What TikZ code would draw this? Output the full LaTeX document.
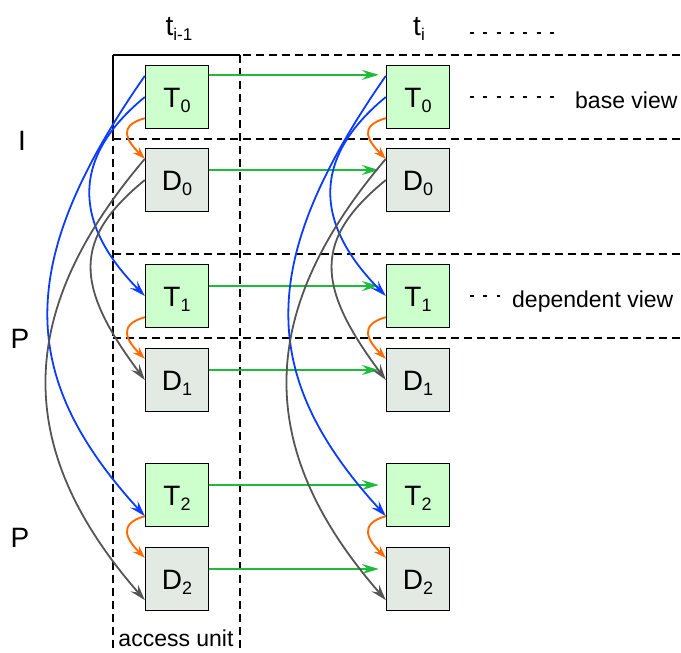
\documentclass[tikz,border=0pt]{standalone}
\usepackage{fontspec}
\setmainfont{Liberation Sans}
\usetikzlibrary{arrows.meta}
\definecolor{tfill}{HTML}{CCFFCC}
\definecolor{dfill}{HTML}{E3EAE3}
\definecolor{agreen}{HTML}{1DBB3A}
\definecolor{ablue}{HTML}{0A3CFF}
\definecolor{aorange}{HTML}{FF6A00}
\definecolor{agray}{HTML}{555555}
\newcommand{\fbig}{\fontsize{28}{30}\selectfont}
\newcommand{\fmid}{\fontsize{23}{25}\selectfont}
\newcommand{\mysub}[1]{\raisebox{-5pt}{\fontsize{18}{18}\selectfont #1}}
\newcommand{\mytsub}[1]{\raisebox{-5pt}{\fontsize{17}{17}\selectfont #1}}
\tikzset{
  box/.style={draw=black, line width=1.3pt, minimum width=63pt, minimum height=63pt,
    inner sep=0pt, text height=20pt, text depth=0pt, font=\fbig},
  tbox/.style={box, fill=tfill},
  dbox/.style={box, fill=dfill},
  dashline/.style={draw=black, line width=1.6pt, dash pattern=on 8pt off 5pt},
  dotline/.style={draw=black, line width=1.5pt, dash pattern=on 4pt off 9.3pt},
  garr/.style={draw=agreen, line width=2pt, shorten >=7pt, -{Stealth[length=17pt,width=10pt,inset=6pt]}},
  barr/.style={draw=ablue, line width=1.8pt, -{Stealth[length=16pt,width=10pt,inset=6pt]}},
  yarr/.style={draw=agray, line width=1.8pt, -{Stealth[length=16pt,width=10pt,inset=6pt]}},
  oarr/.style={draw=aorange, line width=1.9pt, -{Stealth[length=13pt,width=9pt,inset=5pt]}},
  lbl/.style={font=\fbig, inner sep=0pt},
  txt/.style={font=\fmid, inner sep=0pt},
}
\begin{document}
\begin{tikzpicture}[x=1pt, y=-1pt]
\useasboundingbox (0,0) rectangle (681,653);
% dashed frames
\draw[dashline] (113,55) -- (685,55);
\draw[dashline] (113,139) -- (685,139);
\draw[dashline] (113,254) -- (685,254);
\draw[dashline] (113,338) -- (685,338);
\draw[dashline] (113,55) -- (113,660);
\draw[dashline] (240,55) -- (240,660);
\draw[dashline, dash phase=6.5pt] (113,55) -- (240,55);
\draw[dashline, dash phase=6.5pt] (113,55) -- (113,139);
\draw[dashline, dash phase=6.5pt] (113,254) -- (113,338);
% dotted marks
\draw[dotline] (470,33) -- (554,33);
\draw[dotline] (470,97) -- (554,97);
\draw[dotline] (470,296) -- (500,296);
% labels
\node[lbl, anchor=base] (tprev) at (179,35) {t\mytsub{i-1}};
\node[lbl, anchor=base] (tcur) at (419,35) {t\mytsub{i}};
\node[lbl, anchor=base] (lI) at (22,150) {I};
\node[lbl, anchor=base] (lP1) at (20,348) {P};
\node[lbl, anchor=base] (lP2) at (20,547) {P};
\node[txt, anchor=base west] (base) at (575,108) {base view};
\node[txt, anchor=base west] (dep) at (512,307) {dependent view};
\node[txt, anchor=base] (au) at (176,646) {access unit};
% boxes
\node[tbox] (T0) at (177,97) {T\mysub{0}};
\node[dbox] (D0) at (177,180) {D\mysub{0}};
\node[tbox] (T1) at (177,296) {T\mysub{1}};
\node[dbox] (D1) at (177,380) {D\mysub{1}};
\node[tbox] (T2) at (177,495) {T\mysub{2}};
\node[dbox] (D2) at (177,579) {D\mysub{2}};
\node[tbox] (T0r) at (418,97) {T\mysub{0}};
\node[dbox] (D0r) at (418,180) {D\mysub{0}};
\node[tbox] (T1r) at (418,296) {T\mysub{1}};
\node[dbox] (D1r) at (418,380) {D\mysub{1}};
\node[tbox] (T2r) at (418,495) {T\mysub{2}};
\node[dbox] (D2r) at (418,579) {D\mysub{2}};
% green temporal arrows
\draw[garr] ([yshift=-10pt]T0.north east) -- ([yshift=-10pt]T0r.north west);
\draw[garr] ([yshift=10pt]D0.east) -- ([yshift=10pt]D0r.west);
\draw[garr] ([yshift=10pt]T1.east) -- ([yshift=10pt]T1r.west);
\draw[garr] ([yshift=10pt]D1.east) -- ([yshift=10pt]D1r.west);
\draw[garr] ([yshift=10pt]T2.east) -- ([yshift=10pt]T2r.west);
\draw[garr] ([yshift=10pt]D2.east) -- ([yshift=10pt]D2r.west);
% left column dependencies
\draw[barr] ([yshift=-11pt]T0.north west) .. controls +(-129,185) and +(-129,-141) .. ([yshift=11pt]T2.south west);
\draw[barr] (T0.west) .. controls +(-73,60) and +(-73,-74) .. (T1.west);
\draw[yarr] ([yshift=-11pt]D0.north west) .. controls +(-132,155) and +(-131,-150) .. ([yshift=11pt]D2.south west);
\draw[yarr] (D0.west) .. controls +(-72,59) and +(-71,-95) .. (D1.west);
\draw[oarr] ([yshift=11pt]T0.south west) .. controls +(-28,8) and +(-18,-18) .. ([yshift=-11pt]D0.north west);
\draw[oarr] ([yshift=11pt]T1.south west) .. controls +(-28,8) and +(-18,-18) .. ([yshift=-11pt]D1.north west);
\draw[oarr] ([yshift=11pt]T2.south west) .. controls +(-28,8) and +(-18,-18) .. ([yshift=-11pt]D2.north west);
% right column dependencies
\draw[barr] ([yshift=-11pt]T0r.north west) .. controls +(-129,185) and +(-129,-141) .. ([yshift=11pt]T2r.south west);
\draw[barr] (T0r.west) .. controls +(-73,60) and +(-73,-74) .. (T1r.west);
\draw[yarr] ([yshift=-11pt]D0r.north west) .. controls +(-132,155) and +(-131,-150) .. ([yshift=11pt]D2r.south west);
\draw[yarr] (D0r.west) .. controls +(-72,59) and +(-71,-95) .. (D1r.west);
\draw[oarr] ([yshift=11pt]T0r.south west) .. controls +(-28,8) and +(-18,-18) .. ([yshift=-11pt]D0r.north west);
\draw[oarr] ([yshift=11pt]T1r.south west) .. controls +(-28,8) and +(-18,-18) .. ([yshift=-11pt]D1r.north west);
\draw[oarr] ([yshift=11pt]T2r.south west) .. controls +(-28,8) and +(-18,-18) .. ([yshift=-11pt]D2r.north west);
\end{tikzpicture}
\end{document}
